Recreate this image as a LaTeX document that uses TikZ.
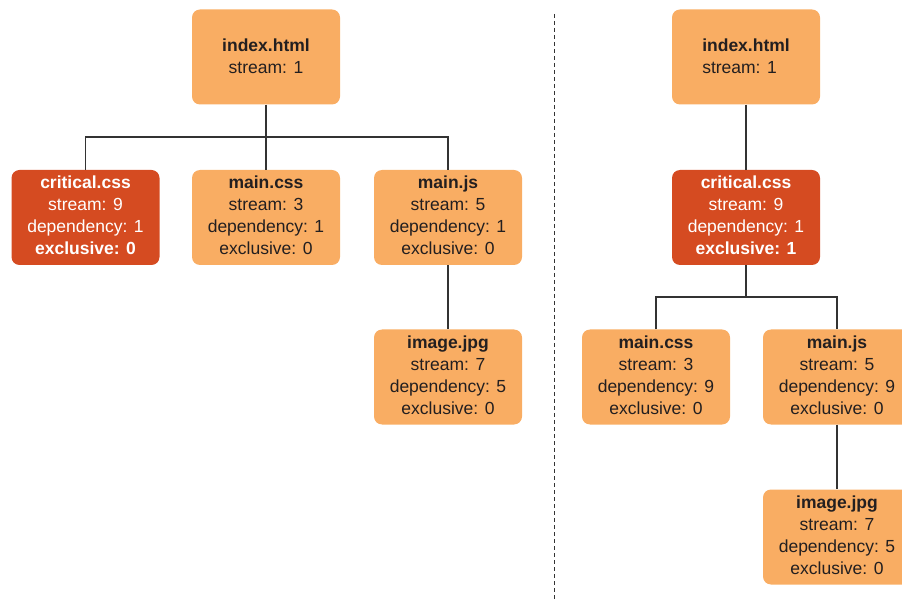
\documentclass[tikz,border=0pt]{standalone}
\usepackage{fontspec}
\setmainfont{Liberation Sans}
\definecolor{boxorange}{HTML}{F9AD63}
\definecolor{boxred}{HTML}{D54B21}
\definecolor{txt}{HTML}{231F20}
\definecolor{linec}{HTML}{333333}
\tikzset{
  x=1pt, y=-1pt,
  filebox/.style={rounded corners=8pt, minimum width=148pt, minimum height=95pt,
    inner sep=0pt, align=center, font=\fontsize{17.5}{22}\selectfont, text=txt, fill=boxorange,
    text depth=4pt},
  topbox/.style={filebox, text depth=2pt},
  hotbox/.style={filebox, fill=boxred, text=white},
  link/.style={draw=linec, line width=1.1pt},
}
\begin{document}
\begin{tikzpicture}
\useasboundingbox (0,0) rectangle (902,601);
\clip (0,0) rectangle (902,601);
% left tree
\node[topbox] (idxL) at (266,57) {\textbf{index.html}\\stream: 1};
\node[hotbox] (critL) at (85.5,217.5) {\textbf{critical.css}\\stream: 9\\dependency: 1\\\textbf{exclusive: 0}};
\node[filebox] (mcssL) at (266,217.5) {\textbf{main.css}\\stream: 3\\dependency: 1\\exclusive: 0};
\node[filebox] (mjsL) at (448,217.5) {\textbf{main.js}\\stream: 5\\dependency: 1\\exclusive: 0};
\node[filebox] (imgL) at (448,377) {\textbf{image.jpg}\\stream: 7\\dependency: 5\\exclusive: 0};
\coordinate (jL) at (266,137);
\draw[link] (idxL.south) -- (mcssL.north);
\draw[link] (critL.north) |- (jL) -| (mjsL.north);
\draw[link] (mjsL.south) -- (imgL.north);
% divider
\coordinate (dTop) at (554,14);
\coordinate (dBot) at (554,601);
\draw[linec, line width=1pt, dash pattern=on 4pt off 3pt] (dTop) -- (dBot);
% right tree
\node[topbox, align=left] (idxR) at (746,57) {\textbf{index.html}\\stream: 1};
\node[hotbox] (critR) at (746,217.5) {\textbf{critical.css}\\stream: 9\\dependency: 1\\\textbf{exclusive: 1}};
\node[filebox] (mcssR) at (656,377) {\textbf{main.css}\\stream: 3\\dependency: 9\\exclusive: 0};
\node[filebox] (mjsR) at (837,377) {\textbf{main.js}\\stream: 5\\dependency: 9\\exclusive: 0};
\node[filebox] (imgR) at (837,537) {\textbf{image.jpg}\\stream: 7\\dependency: 5\\exclusive: 0};
\coordinate (jR) at (746,297);
\draw[link] (idxR.south) -- (critR.north);
\draw[link] (critR.south) -- (jR);
\draw[link] (mcssR.north) |- (jR) -| (mjsR.north);
\draw[link] (mjsR.south) -- (imgR.north);
\end{tikzpicture}
\end{document}
